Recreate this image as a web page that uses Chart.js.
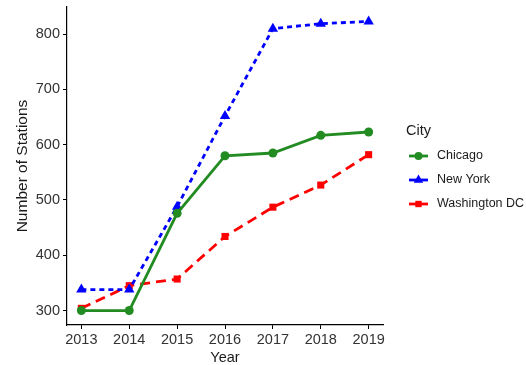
<!DOCTYPE html>
<html>
<head>
<meta charset="utf-8">
<script src="https://cdn.jsdelivr.net/npm/chart.js@4/dist/chart.umd.min.js"></script>
<style>
  html, body { margin: 0; padding: 0; background: #fff; }
  #wrap { width: 526px; height: 365px; position: relative; }
</style>
</head>
<body>
<div id="wrap"><canvas id="stations"></canvas></div>
<script>
// stations per city by year
const years = [2013, 2014, 2015, 2016, 2017, 2018, 2019];
const chicago = [300, 300, 476, 580, 585, 617, 623];
const newYork = [338, 338, 488, 652, 810, 819, 823];
const washingtonDC = [304, 345, 357, 434, 487, 527, 582];
const yTicks = [300, 400, 500, 600, 700, 800];
const cityNames = ["Chicago", "New York", "Washington DC"];

const FONT = "'Liberation Sans', Arial, sans-serif";

const series = [
    { label: cityNames[0], data: chicago, color: "#228B22", dash: [], point: "circle", radius: 4.5 },
    { label: cityNames[1], data: newYork, color: "#0000FF", dash: [5, 4], point: "triangle", radius: 6 },
    { label: cityNames[2], data: washingtonDC, color: "#FF0000", dash: [10, 6], point: "rect", radius: 5 }
];

// ggplot-ish legend on the right: line + marker keys
const cityLegend = {
    id: "cityLegend",
    afterDraw(chart) {
        const ctx = chart.ctx;
        ctx.save();
        ctx.fillStyle = "#1a1a1a";
        ctx.font = "14.5px " + FONT;
        ctx.textBaseline = "middle";
        ctx.textAlign = "left";
        ctx.fillText("City", 406, 131);
        series.forEach((s, i) => {
            const y = 156 + i * 24;
            ctx.strokeStyle = s.color;
            ctx.lineWidth = 2.8;
            ctx.setLineDash([]);
            ctx.beginPath();
            ctx.moveTo(409, y);
            ctx.lineTo(428, y);
            ctx.stroke();
            ctx.fillStyle = s.color;
            Chart.helpers.drawPoint(ctx, { pointStyle: s.point, radius: s.radius - 0.5, rotation: 0, borderWidth: 0 }, 418.5, y);
            ctx.fillStyle = "#1a1a1a";
            ctx.font = "12.5px " + FONT;
            ctx.fillText(s.label, 437, y);
        });
        ctx.restore();
    }
};

new Chart(document.getElementById("stations"), {
    type: "line",
    data: {
        datasets: series.map(s => ({
            label: s.label,
            data: years.map((yr, i) => ({ x: yr, y: s.data[i] })),
            borderColor: s.color,
            backgroundColor: s.color,
            borderWidth: 2.8,
            borderDash: s.dash,
            pointStyle: s.point,
            pointRadius: s.radius,
            pointBorderWidth: 0,
            tension: 0
        }))
    },
    options: {
        responsive: true,
        maintainAspectRatio: false,
        animation: false,
        layout: { padding: { top: 7, right: 143, left: 0, bottom: 0 } },
        plugins: { legend: { display: false }, tooltip: { enabled: false } },
        scales: {
            x: {
                type: "linear",
                min: 2012.7,
                max: 2019.3,
                afterBuildTicks: s => { s.ticks = years.map(v => ({ value: v })); },
                afterFit: s => { s.height = 40; s.paddingLeft = 0; s.paddingRight = 0; },
                grid: { drawOnChartArea: false, drawTicks: true, tickLength: 4, color: "#000" },
                border: { color: "#000", width: 1.2 },
                ticks: { color: "#333", font: { family: FONT, size: 14.5 }, padding: 2, callback: v => String(v) },
                title: { display: true, text: "Year", color: "#1a1a1a", font: { family: FONT, size: 14.5 }, padding: { top: 0, bottom: -2 } }
            },
            y: {
                min: 273.85,
                max: 849.15,
                afterBuildTicks: s => { s.ticks = yTicks.map(v => ({ value: v })); },
                afterFit: s => { s.width = 67; s.paddingTop = 0; s.paddingBottom = 0; },
                grid: { drawOnChartArea: false, drawTicks: true, tickLength: 4, color: "#000" },
                border: { color: "#000", width: 1.2 },
                ticks: { color: "#333", font: { family: FONT, size: 14.5 }, padding: 3 },
                title: { display: true, text: "Number of Stations", color: "#1a1a1a", font: { family: FONT, size: 15.5 }, padding: { top: 13, bottom: 4 } }
            }
        }
    },
    plugins: [cityLegend]
});
</script>
</body>
</html>
